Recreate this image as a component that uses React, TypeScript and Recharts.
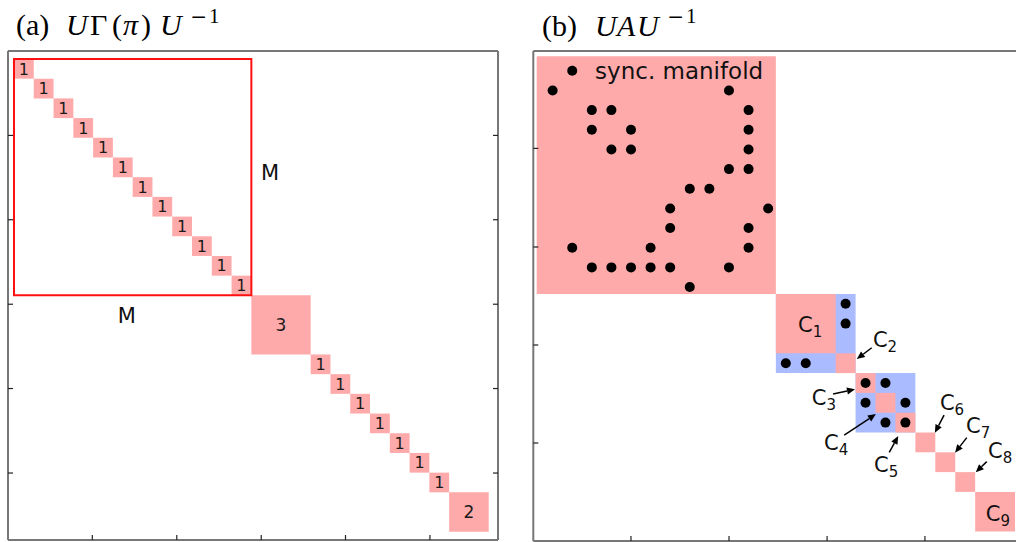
import React from 'react';
import {
	ComposedChart,
	ReferenceArea,
	ReferenceDot,
	ReferenceLine,
	Scatter,
	XAxis,
	YAxis,
} from 'recharts';

const PINK = '#ffaaaa';
const BLUE = '#aabbff';
const SANS = 'DejaVu Sans, sans-serif';
const SERIF = 'Liberation Serif, DejaVu Serif, serif';

// ---- panel (a): block sizes along the diagonal of U Gamma(pi) U^-1
const blockSizesA = [1, 1, 1, 1, 1, 1, 1, 1, 1, 1, 1, 1, 3, 1, 1, 1, 1, 1, 1, 1, 2];
const blockM = 12; // size of the outlined M x M block
const domainAX = [-0.303, 24.47];
const domainAY = [-0.406, 24.42];
const ticksAX = [3.96, 8.23, 12.5, 16.76, 21.03];
const ticksAY = [3.88, 8.16, 12.45, 16.73, 21.02];
const mLabelsA = [
	{ x: 12.94, y: 6.12 },
	{ x: 5.71, y: 13.38 },
];

// ---- panel (b): clusters of U A U^-1
const clusterNames = ['sync', 'C1', 'C2', 'C3', 'C4', 'C5', 'C6', 'C7', 'C8', 'C9'];
const clusterSizes = [12, 3, 1, 1, 1, 1, 1, 1, 1, 2];
// groups of clusters that are coupled (blue background)
const coupledGroups = [
	[12, 16],
	[16, 19],
];
// nonzero entries inside the sync manifold block: row -> columns
const syncRows = [
	[1],
	[0, 9],
	[2, 3, 10],
	[2, 4, 10],
	[3, 4, 10],
	[9, 10],
	[7, 8],
	[6, 11],
	[6, 10],
	[1, 5, 10],
	[2, 3, 4, 5, 6, 9],
	[7],
];
// nonzero entries outside the sync block: [row, col]
const otherEntries = [
	[12, 15],
	[13, 15],
	[15, 12],
	[15, 13],
	[16, 16],
	[16, 17],
	[17, 16],
	[17, 18],
	[18, 17],
	[18, 18],
];
const domainBX = [-0.17, 24.34];
const domainBY = [-0.27, 24.48];
const ticksBX = [4.73, 9.65, 14.57, 19.48];
const ticksBY = [4.65, 9.63, 14.58, 19.53];
// cluster labels: text anchor (left, baseline) and optional arrow tail/tip
const clusterLabels = [
	{ sub: '1', text: [13.11, 13.91] },
	{ sub: '2', text: [16.87, 14.67], tail: [16.81, 14.72], tip: [16.06, 15.29] },
	{ sub: '3', text: [13.8, 17.61], tail: [14.87, 17.06], tip: [15.97, 16.82] },
	{ sub: '4', text: [14.42, 19.88], tail: [15.43, 19.13], tip: [17.02, 18.07] },
	{ sub: '5', text: [16.93, 21.0], tail: [17.69, 20.0], tip: [18.14, 19.18] },
	{ sub: '6', text: [20.23, 17.86], tail: [20.44, 18.12], tip: [19.98, 19.01] },
	{ sub: '7', text: [21.54, 19.03], tail: [21.58, 19.26], tip: [20.99, 20.02] },
	{ sub: '8', text: [22.65, 20.29], tail: [22.58, 20.47], tip: [22.03, 21.01] },
	{ sub: '9', text: [22.53, 23.45] },
];
const syncLabel = { text: 'sync. manifold', x: 2.93, y: 1.13 };

// the dots of the sync block sit on a slightly offset grid in the original figure
const SYNC_X0 = 0.8;
const SYNC_DX = 0.983;
const SYNC_Y0 = 0.73;
const SYNC_DY = 0.993;

const toBlocks = (sizes: number[]) => {
	let start = 0;
	return sizes.map((size) => {
		const b = { start, end: start + size, size };
		start += size;
		return b;
	});
};

const blocksA = toBlocks(blockSizesA);
const blocksB = toBlocks(clusterSizes).map((b, i) => ({ ...b, name: clusterNames[i] }));

const dotsB = [
	...syncRows.flatMap((cols, r) =>
		cols.map((c) => ({ x: SYNC_X0 + SYNC_DX * c, y: SYNC_Y0 + SYNC_DY * r })),
	),
	...otherEntries.map(([r, c]) => ({ x: c + 0.5, y: r + 0.5 })),
];

const NoTick = () => <g />;

const axisCommon = {
	type: 'number' as const,
	allowDataOverflow: true,
	interval: 0 as const,
	tick: NoTick,
	tickSize: 5,
	mirror: true,
	axisLine: { stroke: '#777', strokeWidth: 2 },
	tickLine: { stroke: '#222', strokeWidth: 1.2 },
};

// box with inward ticks on all four sides
const frame = (dx: number[], dy: number[], tx: number[], ty: number[]) => [
	<XAxis key="xb" {...axisCommon} dataKey="x" orientation="bottom" height={1} domain={dx} ticks={tx} />,
	<XAxis key="xt" {...axisCommon} xAxisId="top" orientation="top" height={1} domain={dx} ticks={tx} />,
	<YAxis key="yl" {...axisCommon} dataKey="y" orientation="left" width={1} domain={dy} ticks={ty} reversed />,
	<YAxis key="yr" {...axisCommon} yAxisId="right" orientation="right" width={1} domain={dy} ticks={ty} reversed />,
];

const Arrow = (p: any) => {
	const { x1, y1, x2, y2 } = p;
	const a = Math.atan2(y2 - y1, x2 - x1);
	const L = 8;
	const W = 3.5;
	const bx = x2 - L * Math.cos(a);
	const by = y2 - L * Math.sin(a);
	const pts = `${x2},${y2} ${bx + W * Math.sin(a)},${by - W * Math.cos(a)} ${bx - W * Math.sin(a)},${by + W * Math.cos(a)}`;
	return (
		<g>
			<line x1={x1} y1={y1} x2={bx} y2={by} stroke="#000" strokeWidth={1.5} />
			<polygon points={pts} fill="#000" />
		</g>
	);
};

const PanelA = () => (
	<ComposedChart width={510} height={542} margin={{ top: 51, left: 8, right: 12, bottom: 2 }}>
		{frame(domainAX, domainAY, ticksAX, ticksAY)}
		{blocksA.map((b, i) => (
			<ReferenceArea
				key={`a${i}`}
				x1={b.start}
				x2={b.end}
				y1={b.start}
				y2={b.end}
				fill={PINK}
				fillOpacity={1}
				stroke="none"
				label={{ value: String(b.size), position: 'center', fontSize: b.size > 1 ? 17 : 16, fill: '#1a1a1a', fontFamily: SANS }}
			/>
		))}
		<ReferenceArea x1={0} x2={blockM} y1={0} y2={blockM} fill="none" stroke="#ff1010" strokeWidth={2} />
		{mLabelsA.map((m, i) => (
			<ReferenceDot
				key={`m${i}`}
				x={m.x}
				y={m.y}
				r={0}
				shape={(p: any) => (
					<text x={p.cx} y={p.cy} textAnchor="middle" fontSize={21} fontFamily={SANS} fill="#111">
						M
					</text>
				)}
			/>
		))}
	</ComposedChart>
);

const PanelB = () => (
	<ComposedChart width={510} height={542} margin={{ top: 51, left: 13.3, right: 8.2, bottom: 1 }}>
		{frame(domainBX, domainBY, ticksBX, ticksBY)}
		{coupledGroups.map(([s, e], i) => (
			<ReferenceArea key={`g${i}`} x1={s} x2={e} y1={s} y2={e} fill={BLUE} fillOpacity={1} stroke="none" />
		))}
		{blocksB.map((b) => (
			<ReferenceArea key={b.name} x1={b.start} x2={b.end} y1={b.start} y2={b.end} fill={PINK} fillOpacity={1} stroke="none" />
		))}
		<ReferenceDot
			x={syncLabel.x}
			y={syncLabel.y}
			r={0}
			shape={(p: any) => (
				<text x={p.cx} y={p.cy} fontSize={23} fontFamily={SANS} fill="#111">
					{syncLabel.text}
				</text>
			)}
		/>
		{clusterLabels
			.filter((c) => c.tail)
			.map((c) => (
				<ReferenceLine
					key={`ar${c.sub}`}
					segment={[
						{ x: c.tail![0], y: c.tail![1] },
						{ x: c.tip![0], y: c.tip![1] },
					]}
					shape={Arrow}
				/>
			))}
		{clusterLabels.map((c) => (
			<ReferenceDot
				key={`cl${c.sub}`}
				x={c.text[0]}
				y={c.text[1]}
				r={0}
				shape={(p: any) => (
					<text x={p.cx} y={p.cy} fontSize={21} fontFamily={SANS} fill="#111">
						C
						<tspan fontSize={15} dy={5}>
							{c.sub}
						</tspan>
					</text>
				)}
			/>
		))}
		<Scatter
			data={dotsB}
			isAnimationActive={false}
			shape={(p: any) => <circle cx={p.cx} cy={p.cy} r={5} fill="#000" />}
		/>
	</ComposedChart>
);

const Titles = () => (
	<svg width={1016} height={50} style={{ position: 'absolute', left: 0, top: 0 }}>
		<text y={35} fontFamily={SERIF} fontSize={30} fill="#000">
			<tspan x={16}>(a)</tspan>
			<tspan x={66} fontStyle="italic">U</tspan>
			<tspan x={90}>Γ</tspan>
			<tspan x={112}>(</tspan>
			<tspan x={123} fontStyle="italic">π</tspan>
			<tspan x={141}>)</tspan>
			<tspan x={160} fontStyle="italic">U</tspan>
		</text>
		<text y={26} fontFamily={SERIF} fontSize={27} fill="#000" x={191}>−</text>
		<text y={23} fontFamily={SERIF} fontSize={21} fill="#000" x={209}>1</text>
		<text y={36} fontFamily={SERIF} fontSize={30} fill="#000">
			<tspan x={542}>(b)</tspan>
			<tspan x={595} fontStyle="italic">U</tspan>
			<tspan x={617} fontStyle="italic">A</tspan>
			<tspan x={637} fontStyle="italic">U</tspan>
		</text>
		<text y={26} fontFamily={SERIF} fontSize={27} fill="#000" x={668}>−</text>
		<text y={23} fontFamily={SERIF} fontSize={21} fill="#000" x={686}>1</text>
	</svg>
);

const App = () => (
	<div style={{ position: 'absolute', left: 0, top: 0, width: 1016, height: 542, overflow: 'hidden', background: '#fff' }}>
		<div style={{ position: 'absolute', left: 0, top: 0 }}>
			<PanelA />
		</div>
		<div style={{ position: 'absolute', left: 520, top: 0 }}>
			<PanelB />
		</div>
		<Titles />
	</div>
);

export default App;
